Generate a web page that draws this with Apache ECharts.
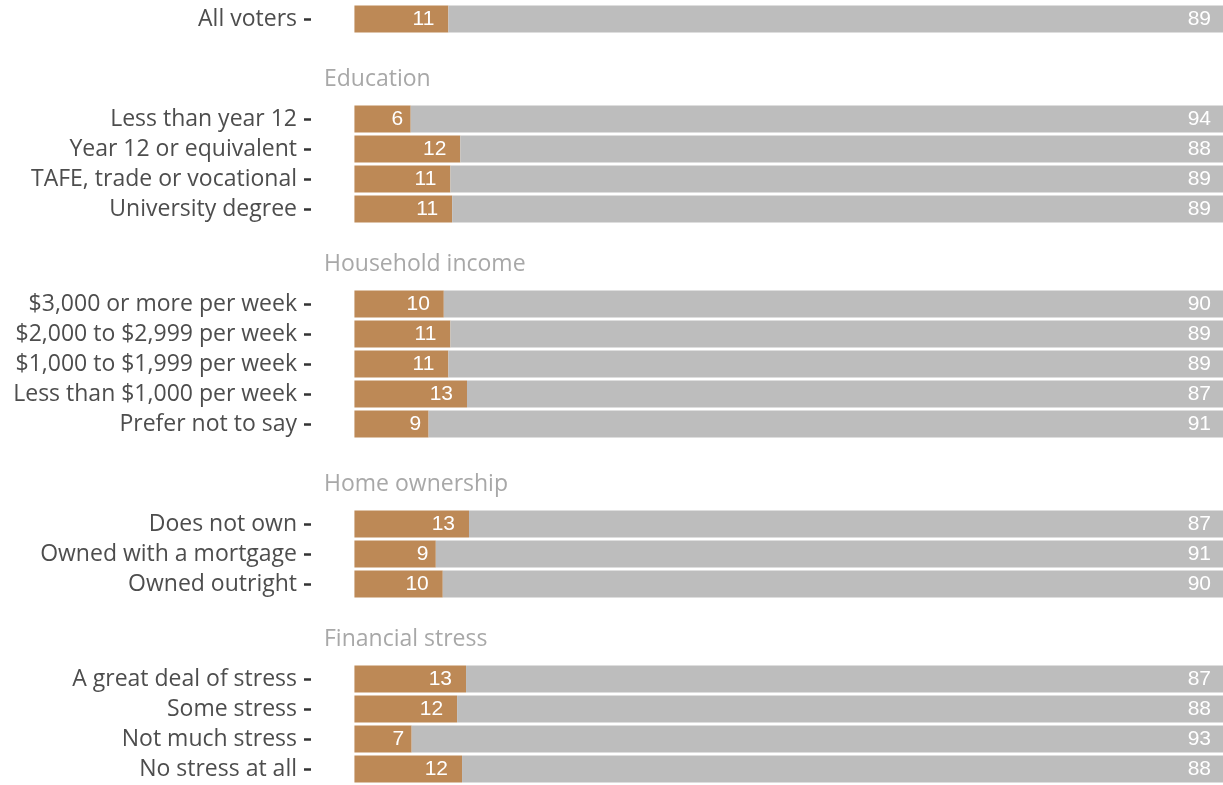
<!DOCTYPE html>
<html><head><meta charset="utf-8">
<script src="https://cdn.jsdelivr.net/npm/echarts@6/dist/echarts.min.js"></script>
<style>html,body{margin:0;padding:0;background:#fff}#c{width:1223px;height:785px}</style>
</head><body><div id="c"></div>
<script>
// ---- data ----
const groupNames = ['', 'Education', 'Household income', 'Home ownership', 'Financial stress'];
const categories = [
  'All voters',
  'Less than year 12', 'Year 12 or equivalent', 'TAFE, trade or vocational', 'University degree',
  '$3,000 or more per week', '$2,000 to $2,999 per week', '$1,000 to $1,999 per week', 'Less than $1,000 per week', 'Prefer not to say',
  'Does not own', 'Owned with a mortgage', 'Owned outright',
  'A great deal of stress', 'Some stress', 'Not much stress', 'No stress at all'
];
const groupOf = [0, 1,1,1,1, 2,2,2,2,2, 3,3,3, 4,4,4,4];
const orangeValues = [10.82, 6.48, 12.19, 11.05, 11.25, 10.29, 11.05, 10.82, 12.96, 8.54, 13.19, 9.37, 10.17, 12.85, 11.82, 6.59, 12.39];
const greyValues   = [89.18, 93.52, 87.81, 88.95, 88.75, 89.71, 88.95, 89.18, 87.04, 91.46, 86.81, 90.63, 89.83, 87.15, 88.18, 93.41, 87.61];

// ---- layout (slot counts on the category axis) ----
const headerGapSlots = [12, 11, 12, 11]; // from last row of previous group to header
const headerToRowSlots = 8;
const rowStepSlots = 6;

const ids = [], kinds = [], display = [], rowAt = [];
let blankN = 0;
function blank(n){ for(let i=0;i<n;i++){ ids.push('_b'+(blankN++)); kinds.push('b'); display.push(''); rowAt.push(-1);} }
function row(r){ ids.push('_r'+r); kinds.push('r'); display.push(categories[r]); rowAt.push(r); }
function header(g){ ids.push('_h'+g); kinds.push('h'); display.push(groupNames[g]); rowAt.push(-1); }
let prevGroup = -1;
categories.forEach((c, r) => {
  const g = groupOf[r];
  if (r === 0) { row(r); prevGroup = g; return; }
  if (g !== prevGroup) {
    blank(headerGapSlots[g-1]-1); header(g); blank(headerToRowSlots-1); row(r);
  } else { blank(rowStepSlots-1); row(r); }
  prevGroup = g;
});

const yData = ids.map((id, i) => kinds[i] === 'h'
  ? { value: id, textStyle: { align: 'left', padding: [2,0,0,27], color: '#a8a8a8' } }
  : id);

const orangeData = rowAt.map(r => r < 0 ? '-' : { value: orangeValues[r], label: { distance: Math.round(orangeValues[r]) >= 10 ? 14 : 7.5 } });
const greyData = rowAt.map(r => r < 0 ? '-' : greyValues[r]);

const chart = echarts.init(document.getElementById('c'), null, { renderer: 'canvas' });
chart.setOption({
  animation: false,
  backgroundColor: '#ffffff',
  grid: { left: 311, width: 918.75, top: 16.5, height: 755 },
  xAxis: { type: 'value', min: -5, max: 100, show: false },
  yAxis: {
    type: 'category', inverse: true, data: yData,
    axisLine: { show: false, onZero: false },
    axisTick: { show: true, alignWithLabel: true, length: 7, lineStyle: { color: '#333333', width: 2.5 },
      interval: (i) => kinds[i] === 'r' },
    axisLabel: { interval: 0, margin: 14, fontFamily: 'Open Sans', fontSize: 23, color: '#4d4d4d',
      padding: [3, 0, 0, 0],
      formatter: (v, i) => display[i] },
    splitLine: { show: false }
  },
  series: [
    { type: 'bar', stack: 'a', barWidth: 27, clip: false, data: orangeData, itemStyle: { color: '#bd8956' },
      label: { show: true, position: 'insideRight', color: '#ffffff', fontFamily: 'Liberation Sans', fontSize: 21,
        formatter: p => String(Math.round(p.value)) } },
    { type: 'bar', stack: 'a', barWidth: 27, clip: false, data: greyData, itemStyle: { color: '#bdbdbd' },
      label: { show: true, position: 'insideRight', distance: 12, color: '#ffffff', fontFamily: 'Liberation Sans', fontSize: 21,
        formatter: p => String(Math.round(p.value)) } }
  ]
});
</script></body></html>
